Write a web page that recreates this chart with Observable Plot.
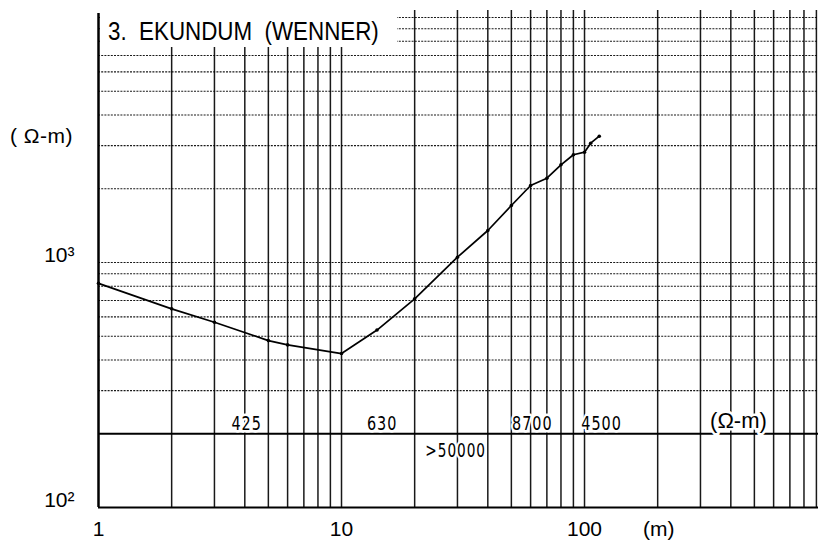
<!DOCTYPE html>
<html>
<head>
<meta charset="utf-8">
<script src="https://cdn.jsdelivr.net/npm/d3@7"></script>
<script src="https://cdn.jsdelivr.net/npm/@observablehq/plot@0.6"></script>
<style>
  html, body { margin: 0; padding: 0; background: #fff; }
  #wrap { position: relative; width: 818px; height: 542px; overflow: hidden; background: #fff;
          font-family: "Liberation Sans", Arial, sans-serif; color: #000; }
  #title { position: absolute; left: 100px; top: 0; width: 297px; height: 47px; background: #fff; }
  #title span { position: absolute; left: 8px; top: 18px; font-size: 26px; line-height: 26px;
                white-space: pre; transform: scaleX(0.86); transform-origin: left top; }
  #yunit { position: absolute; left: 10px; top: 125px; font-size: 21px; line-height: 21px;
           white-space: pre; letter-spacing: 0.5px; }
  g.narrow text { letter-spacing: 1.2px; }
</style>
</head>
<body>
<div id="wrap">
  <div id="chart"></div>
  <div id="title"><span>3.  EKUNDUM  (WENNER)</span></div>
  <div id="yunit">( Ω-m)</div>
</div>
<script>
// Sounding data: electrode spacing (m) and apparent resistivity (Ω-m)
const spacing     = [1, 2, 3, 5, 6, 10, 14, 20, 30, 40, 50, 60, 70, 80, 90, 100, 106, 115];
const resistivity = [822, 647, 570, 480, 461, 425, 530, 711, 1051, 1351, 1709, 2062, 2208, 2505, 2753, 2820, 3069, 3278];

// Grid values
const xGrid = [2, 3, 4, 5, 6, 7, 8, 9, 10, 20, 30, 40, 50, 60, 70, 80, 90, 100, 200, 300, 400, 500, 600, 700, 800, 900];
const yGrid = [300, 400, 500, 600, 700, 800, 900, 1000, 2000, 3000, 4000, 5000, 6000, 7000, 8000, 9000, 10000];
const layerBoundary = [200];

// Tick labels
const xTicks = [1, 10, 100];
const xTickLabels = ["1", "10", "100"];
const yTicks = [100, 1000];
const yTickLabels = ["10²", "10³"];

// Layer resistivity labels (Ω-m)
const upperLabels = ["425", "630", "8700", "4500"];
const upperLabelX = [4.07, 14.7, 61, 117.5];
const lowerLabels = [">50000"];
const lowerLabelX = [29.5];
const rhoUnit = ["(Ω-m)"];
const rhoUnitX = [430];
const xUnit = ["(m)"];
const xUnitX = [202];

const data = spacing.map((a, i) => ({a, rho: resistivity[i]}));
const narrow = "'DejaVu Sans Condensed', 'Liberation Sans Narrow', sans-serif";

const chart = Plot.plot({
  width: 818,
  height: 542,
  marginLeft: 98,
  marginRight: 0,
  marginTop: 17,
  marginBottom: 35,
  style: {fontFamily: "'Liberation Sans', Arial, sans-serif", background: "#fff", color: "#000", overflow: "visible"},
  x: {type: "log", domain: [1, 918], axis: null},
  y: {type: "log", domain: [100, 10000], axis: null},
  marks: [
    Plot.ruleY(yGrid, {stroke: "#1a1a1a", strokeWidth: 1.1, strokeDasharray: "2,1.2"}),
    Plot.ruleX(xGrid, {stroke: "#000", strokeWidth: 1.5, strokeOpacity: 0.9, insetTop: -7}),
    Plot.ruleY(layerBoundary, {stroke: "#000", strokeWidth: 2.2}),
    Plot.ruleY([100], {stroke: "#000", strokeWidth: 2}),
    Plot.ruleX([1], {stroke: "#000", strokeWidth: 2.5, insetTop: -4}),
    Plot.line(data, {x: "a", y: "rho", stroke: "#000", strokeWidth: 1.7}),
    Plot.dot(data, {x: "a", y: "rho", r: 1.8, fill: "#000", stroke: null}),
    Plot.text(upperLabels, {x: (d, i) => upperLabelX[i], y: () => layerBoundary[0], text: d => d,
      lineAnchor: "bottom", dy: -4, fontSize: 20, fontFamily: narrow, fill: "#000",
      stroke: "#fff", strokeWidth: 5}),
    Plot.text(lowerLabels, {x: (d, i) => lowerLabelX[i], y: () => layerBoundary[0], text: d => d,
      lineAnchor: "top", dy: 10, fontSize: 19, fontFamily: narrow, fill: "#000",
      stroke: "#fff", strokeWidth: 5}),
    Plot.text(rhoUnit, {x: (d, i) => rhoUnitX[i], y: () => layerBoundary[0], text: d => d,
      lineAnchor: "bottom", dy: -6, fontSize: 22, fill: "#000", stroke: "#fff", strokeWidth: 5}),
    Plot.axisX(xTicks, {tickSize: 0, tickPadding: 14, fontSize: 21,
      tickFormat: d => xTickLabels[xTicks.indexOf(d)], label: null}),
    Plot.text(xUnit, {x: (d, i) => xUnitX[i], frameAnchor: "bottom", text: d => d,
      lineAnchor: "top", dy: 14, fontSize: 21, fill: "#000"}),
    Plot.axisY(yTicks, {tickSize: 0, tickPadding: 24, fontSize: 21, dy: -7,
      tickFormat: d => yTickLabels[yTicks.indexOf(d)], label: null})
  ]
});

// Condense the layer-resistivity labels horizontally (narrow typewriter digits)
chart.querySelectorAll("g[font-family]").forEach(g => {
  if (!String(g.getAttribute("font-family")).includes("Condensed")) return;
  g.classList.add("narrow");
  g.querySelectorAll("text").forEach(t => {
    let tr = t.getAttribute("transform");
    if (!tr) {
      const x = +t.getAttribute("x") || 0, y = +t.getAttribute("y") || 0;
      t.removeAttribute("x"); t.removeAttribute("y");
      tr = `translate(${x},${y})`;
    }
    t.setAttribute("transform", tr + " scale(0.8,1)");
  });
});

document.getElementById("chart").appendChild(chart);
</script>
</body>
</html>
